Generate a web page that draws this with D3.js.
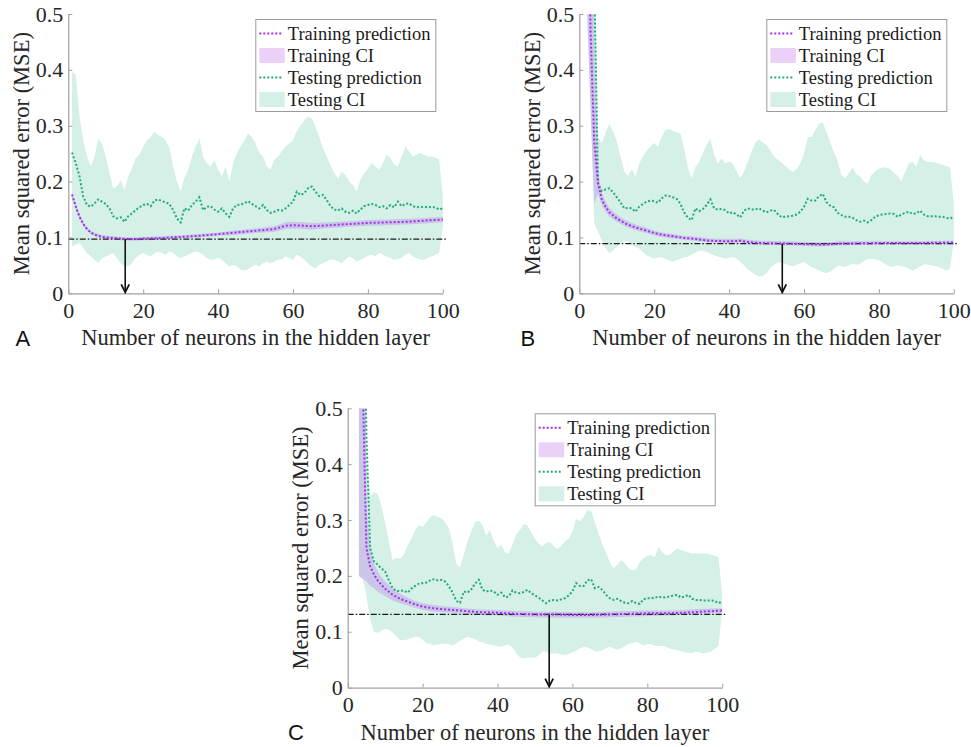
<!DOCTYPE html>
<html><head><meta charset="utf-8">
<script src="https://cdn.jsdelivr.net/npm/d3@7"></script>
<style>body{margin:0;background:#fff}svg{display:block}</style>
</head><body>
<svg id="c" width="971" height="747"></svg>
<script>
// ---------- DATA ----------
const neurons = d3.range(1, 101); // x grid 1..100
const yTicks = [0, 0.1, 0.2, 0.3, 0.4, 0.5];
const xTicks = [0, 20, 40, 60, 80, 100];
const legendLabels = ["Training prediction", "Training CI", "Testing prediction", "Testing CI"];
const xTitle = "Number of neurons in the hidden layer";
const yTitle = "Mean squared error (MSE)";
const panelLetters = ["A", "B", "C"];
const hlineValues = [0.097, 0.089, 0.131];
const arrowNeurons = [15.2, 54.2, 53.8];

// Panel A
const testPredA = [0.252,0.233,0.209,0.173,0.158,0.155,0.161,0.168,0.164,0.160,
0.152,0.138,0.134,0.136,0.128,0.138,0.143,0.149,0.154,0.158,
0.160,0.156,0.166,0.168,0.165,0.163,0.160,0.149,0.134,0.127,
0.152,0.148,0.158,0.164,0.172,0.149,0.155,0.156,0.150,0.146,
0.152,0.143,0.137,0.152,0.158,0.159,0.161,0.165,0.160,0.156,
0.152,0.158,0.149,0.144,0.146,0.149,0.148,0.152,0.158,0.164,
0.182,0.176,0.179,0.188,0.191,0.182,0.174,0.176,0.167,0.156,
0.150,0.148,0.152,0.146,0.144,0.148,0.143,0.150,0.156,0.158,
0.160,0.158,0.154,0.156,0.152,0.158,0.154,0.164,0.156,0.160,
0.161,0.156,0.154,0.155,0.154,0.155,0.154,0.154,0.150,0.152];
const testHiA = [0.397,0.391,0.316,0.274,0.245,0.227,0.245,0.277,0.268,0.245,
0.215,0.188,0.191,0.203,0.185,0.209,0.224,0.242,0.248,0.263,
0.274,0.280,0.289,0.283,0.280,0.274,0.260,0.227,0.200,0.182,
0.206,0.221,0.245,0.263,0.277,0.245,0.233,0.227,0.239,0.221,
0.209,0.227,0.200,0.233,0.251,0.263,0.274,0.286,0.280,0.268,
0.251,0.245,0.227,0.221,0.239,0.245,0.254,0.263,0.268,0.274,
0.289,0.301,0.310,0.316,0.313,0.298,0.280,0.260,0.245,0.230,
0.215,0.206,0.218,0.212,0.200,0.194,0.182,0.203,0.215,0.224,
0.233,0.227,0.221,0.233,0.248,0.242,0.230,0.227,0.245,0.263,
0.254,0.245,0.248,0.251,0.248,0.245,0.245,0.243,0.240,0.174];
const testLoA = [0.084,0.087,0.090,0.081,0.072,0.066,0.060,0.054,0.063,0.066,
0.069,0.072,0.063,0.054,0.048,0.048,0.054,0.063,0.069,0.072,
0.069,0.066,0.072,0.075,0.072,0.069,0.075,0.072,0.066,0.063,
0.066,0.069,0.072,0.075,0.073,0.069,0.063,0.060,0.061,0.063,
0.060,0.054,0.048,0.051,0.048,0.042,0.041,0.043,0.048,0.051,
0.048,0.054,0.057,0.054,0.057,0.060,0.061,0.066,0.063,0.060,
0.069,0.066,0.060,0.054,0.048,0.045,0.051,0.054,0.057,0.061,
0.060,0.057,0.054,0.060,0.066,0.063,0.057,0.060,0.063,0.067,
0.069,0.066,0.072,0.069,0.066,0.063,0.060,0.061,0.064,0.069,
0.072,0.066,0.063,0.060,0.060,0.063,0.066,0.069,0.072,0.118];
const trainXA = [1,2,3,4,5,6,7,8,9,10,12,14,16,18,20,25,30,35,40,45,50,55,58,60,63,65,70,75,80,85,90,95,100];
const trainA   = [0.177,0.155,0.137,0.124,0.115,0.109,0.105,0.103,0.101,0.100,0.099,0.098,0.097,0.097,0.098,0.099,0.101,0.103,0.106,0.109,0.112,0.115,0.121,0.122,0.121,0.120,0.122,0.124,0.126,0.127,0.128,0.130,0.132];
const trainLoA = [0.172,0.151,0.133,0.121,0.112,0.106,0.102,0.100,0.098,0.097,0.096,0.095,0.094,0.094,0.095,0.096,0.098,0.100,0.103,0.105,0.108,0.110,0.115,0.116,0.115,0.114,0.117,0.119,0.121,0.122,0.123,0.125,0.127];
const trainHiA = [0.181,0.159,0.141,0.128,0.118,0.112,0.108,0.106,0.104,0.103,0.102,0.101,0.100,0.100,0.101,0.102,0.104,0.106,0.109,0.113,0.116,0.120,0.127,0.128,0.127,0.126,0.127,0.129,0.131,0.132,0.133,0.135,0.137];

// Panel B
const testPredB = [null,null,0.9,0.55,0.196,0.183,0.186,0.188,0.181,0.172,
0.163,0.152,0.153,0.152,0.146,0.155,0.160,0.164,0.166,0.165,
0.162,0.170,0.175,0.174,0.172,0.169,0.160,0.145,0.135,0.131,
0.152,0.147,0.151,0.158,0.168,0.152,0.150,0.151,0.149,0.143,
0.145,0.141,0.136,0.148,0.152,0.150,0.150,0.152,0.148,0.145,
0.148,0.149,0.142,0.136,0.137,0.138,0.139,0.141,0.146,0.155,
0.169,0.166,0.166,0.174,0.178,0.163,0.157,0.154,0.144,0.140,
0.137,0.137,0.135,0.131,0.128,0.130,0.127,0.131,0.137,0.140,
0.141,0.142,0.143,0.142,0.137,0.141,0.144,0.146,0.142,0.143,
0.148,0.141,0.138,0.138,0.138,0.137,0.137,0.135,0.134,0.137];
const testHiB = [null,2.0,1.5,0.6,0.280,0.268,0.288,0.303,0.290,0.272,
0.245,0.218,0.210,0.222,0.208,0.232,0.246,0.255,0.263,0.269,
0.262,0.280,0.293,0.294,0.291,0.288,0.286,0.260,0.225,0.205,
0.226,0.235,0.251,0.266,0.277,0.248,0.232,0.242,0.232,0.236,
0.232,0.218,0.206,0.218,0.236,0.254,0.270,0.276,0.270,0.266,
0.255,0.245,0.239,0.234,0.228,0.222,0.217,0.222,0.232,0.250,
0.280,0.280,0.292,0.304,0.306,0.289,0.270,0.252,0.236,0.212,
0.206,0.215,0.225,0.213,0.209,0.200,0.196,0.212,0.218,0.223,
0.225,0.225,0.222,0.216,0.210,0.200,0.218,0.233,0.236,0.226,
0.248,0.238,0.235,0.235,0.234,0.232,0.230,0.228,0.225,0.160];
const testLoB = [null,0.52,0.33,0.125,0.110,0.095,0.081,0.072,0.076,0.083,
0.089,0.093,0.093,0.086,0.083,0.080,0.074,0.068,0.065,0.062,
0.064,0.064,0.062,0.059,0.056,0.059,0.062,0.064,0.066,0.069,
0.073,0.076,0.076,0.074,0.071,0.068,0.066,0.064,0.062,0.063,
0.065,0.062,0.056,0.050,0.043,0.038,0.033,0.030,0.031,0.036,
0.045,0.051,0.055,0.055,0.053,0.050,0.048,0.051,0.054,0.056,
0.052,0.047,0.044,0.041,0.038,0.036,0.039,0.044,0.049,0.049,
0.047,0.050,0.053,0.051,0.053,0.058,0.061,0.062,0.061,0.059,
0.055,0.051,0.048,0.048,0.050,0.049,0.047,0.044,0.041,0.044,
0.048,0.052,0.051,0.050,0.049,0.047,0.044,0.041,0.044,0.095];
const trainXB = [2,3,4,5,6,7,8,10,12,14,16,18,20,22,25,28,30,35,40,43,45,48,55,60,65,70,80,90,100];
const trainB   = [0.95,0.47,0.27,0.197,0.168,0.155,0.145,0.134,0.126,0.120,0.116,0.112,0.108,0.105,0.102,0.099,0.098,0.094,0.093,0.094,0.092,0.090,0.089,0.088,0.087,0.089,0.090,0.090,0.091];
const trainLoB = [0.52,0.33,0.16,0.178,0.158,0.147,0.138,0.128,0.121,0.115,0.111,0.108,0.104,0.101,0.098,0.096,0.095,0.091,0.090,0.091,0.089,0.087,0.086,0.085,0.084,0.086,0.087,0.087,0.088];
const trainHiB = [2.0,0.9,0.42,0.218,0.180,0.165,0.153,0.141,0.132,0.126,0.121,0.117,0.112,0.109,0.106,0.103,0.102,0.098,0.097,0.098,0.096,0.094,0.093,0.092,0.091,0.093,0.093,0.093,0.094];

// Panel C
const testPredC = [null,null,null,0.9,0.45,0.250,0.226,0.220,0.213,0.208,
0.192,0.178,0.173,0.173,0.174,0.170,0.177,0.182,0.186,0.187,
0.188,0.192,0.194,0.192,0.193,0.190,0.182,0.170,0.155,0.152,
0.172,0.170,0.176,0.186,0.193,0.175,0.172,0.174,0.172,0.166,
0.170,0.162,0.163,0.174,0.170,0.169,0.171,0.175,0.169,0.165,
0.161,0.156,0.151,0.156,0.157,0.156,0.158,0.160,0.165,0.172,
0.187,0.182,0.182,0.192,0.194,0.178,0.180,0.175,0.166,0.160,
0.157,0.159,0.155,0.152,0.151,0.155,0.151,0.150,0.158,0.160,
0.160,0.161,0.163,0.161,0.162,0.163,0.165,0.166,0.161,0.163,
0.166,0.159,0.157,0.157,0.156,0.156,0.156,0.155,0.151,0.154];
const testHiC = [null,null,2.5,1.2,0.40,0.342,0.350,0.346,0.325,0.295,
0.262,0.228,0.232,0.231,0.238,0.255,0.266,0.282,0.291,0.287,
0.296,0.305,0.309,0.306,0.303,0.296,0.285,0.258,0.222,0.216,
0.238,0.262,0.280,0.296,0.299,0.290,0.272,0.282,0.263,0.250,
0.256,0.242,0.240,0.256,0.274,0.282,0.293,0.290,0.278,0.266,
0.258,0.253,0.259,0.261,0.253,0.248,0.253,0.262,0.266,0.280,
0.302,0.298,0.305,0.318,0.316,0.296,0.275,0.256,0.241,0.224,
0.214,0.220,0.228,0.223,0.214,0.210,0.212,0.225,0.232,0.236,
0.237,0.234,0.252,0.242,0.237,0.238,0.243,0.249,0.246,0.244,
0.242,0.240,0.240,0.240,0.240,0.240,0.238,0.236,0.234,0.168];
const testLoC = [null,null,0.200,0.195,0.165,0.122,0.100,0.098,0.102,0.105,
0.104,0.098,0.091,0.085,0.085,0.086,0.089,0.091,0.091,0.086,
0.080,0.078,0.076,0.077,0.078,0.079,0.078,0.076,0.079,0.084,
0.088,0.091,0.089,0.087,0.083,0.081,0.078,0.077,0.076,0.074,
0.073,0.076,0.077,0.072,0.062,0.054,0.052,0.054,0.054,0.053,
0.058,0.065,0.064,0.061,0.061,0.061,0.059,0.059,0.060,0.063,
0.066,0.070,0.073,0.072,0.069,0.065,0.065,0.067,0.070,0.073,
0.070,0.068,0.070,0.074,0.078,0.080,0.082,0.079,0.076,0.078,
0.078,0.075,0.074,0.075,0.073,0.070,0.068,0.067,0.065,0.063,
0.062,0.062,0.064,0.063,0.061,0.063,0.064,0.070,0.074,0.140];
const trainXC = [3,4,5,6,7,8,9,10,12,14,16,18,20,23,26,30,35,40,45,50,55,60,65,70,75,80,85,90,95,100];
const trainC   = [1.4,0.55,0.250,0.217,0.203,0.192,0.184,0.177,0.166,0.159,0.154,0.149,0.145,0.142,0.140,0.138,0.135,0.134,0.132,0.131,0.131,0.130,0.130,0.131,0.132,0.133,0.133,0.134,0.136,0.138];
const trainLoC = [0.200,0.195,0.190,0.182,0.178,0.172,0.168,0.164,0.156,0.151,0.147,0.143,0.139,0.136,0.135,0.133,0.130,0.129,0.127,0.126,0.125,0.125,0.125,0.126,0.127,0.128,0.129,0.130,0.132,0.134];
const trainHiC = [2.5,1.2,0.33,0.245,0.222,0.208,0.198,0.190,0.177,0.168,0.161,0.155,0.151,0.148,0.145,0.143,0.140,0.139,0.137,0.136,0.136,0.135,0.135,0.136,0.137,0.138,0.138,0.139,0.141,0.142];

// ---------- STYLE ----------
const colTest = "#22a97c", colTrain = "#a52cf0";
const fillTest = "#d4f0e7", fillTrain = "rgba(160,32,240,0.2)", swatchTrain = "#ebd0f8";
const serif = "'Liberation Serif','Times New Roman',serif";

const panels = [
  {left:68.3, top:14, letterX:15.5, tp:testPredA, tl:testLoA, th:testHiA, rx:trainXA, r:trainA, rl:trainLoA, rh:trainHiA},
  {left:579.3, top:14, letterX:520.5, tp:testPredB, tl:testLoB, th:testHiB, rx:trainXB, r:trainB, rl:trainLoB, rh:trainHiB},
  {left:347.7, top:408.3, letterX:288, tp:testPredC, tl:testLoC, th:testHiC, rx:trainXC, r:trainC, rl:trainLoC, rh:trainHiC}
];
const W = 374.5, H = 279.3;
const svg = d3.select("#c");

panels.forEach((p, i) => {
  const g = svg.append("g").attr("transform", `translate(${p.left},${p.top})`);
  const x = d3.scaleLinear().domain([0, 100]).range([0, W]);
  const y = d3.scaleLinear().domain([0, 0.5]).range([H, 0]);
  const cid = "clip" + i;
  g.append("clipPath").attr("id", cid).append("rect").attr("x", 0).attr("y", 0).attr("width", W + 8).attr("height", H);
  const plot = g.append("g").attr("clip-path", `url(#${cid})`);

  const testRows = neurons.map((n, k) => ({n, m: p.tp[k], lo: p.tl[k], hi: p.th[k]}));
  const trainRows = p.rx.map((n, k) => ({n, m: p.r[k], lo: p.rl[k], hi: p.rh[k]}));

  plot.append("path").datum(testRows)
    .attr("d", d3.area().defined(d => d.lo != null && d.hi != null).x(d => x(d.n)).y0(d => y(d.lo)).y1(d => y(d.hi)))
    .attr("fill", fillTest);
  plot.append("path").datum(trainRows)
    .attr("d", d3.area().x(d => x(d.n)).y0(d => y(d.lo)).y1(d => y(d.hi)))
    .attr("fill", fillTrain);

  // optimum horizontal line
  plot.append("line").attr("x1", x(0)).attr("x2", x(100.8))
    .attr("y1", y(hlineValues[i])).attr("y2", y(hlineValues[i]))
    .attr("stroke", "#1a1a1a").attr("stroke-width", 1.4).attr("stroke-dasharray", "6,2,1.5,2");

  plot.append("path").datum(testRows)
    .attr("d", d3.line().defined(d => d.m != null).x(d => x(d.n)).y(d => y(d.m)))
    .attr("fill", "none").attr("stroke", colTest).attr("stroke-width", 2).attr("stroke-dasharray", "2,2");
  plot.append("path").datum(trainRows)
    .attr("d", d3.line().x(d => x(d.n)).y(d => y(d.m)))
    .attr("fill", "none").attr("stroke", colTrain).attr("stroke-width", 2).attr("stroke-dasharray", "2,2");

  // axes
  const xa = g.append("g").attr("transform", `translate(0,${H})`)
    .call(d3.axisBottom(x).tickValues(xTicks).tickSizeInner(-4).tickSizeOuter(0).tickPadding(10).tickFormat(d3.format("d")));
  const ya = g.append("g")
    .call(d3.axisLeft(y).tickValues(yTicks).tickSizeInner(-4).tickSizeOuter(0).tickPadding(5).tickFormat(d => d === 0 ? "0" : d3.format(".1f")(d)));
  [xa, ya].forEach(a => {
    a.select(".domain").attr("stroke", "#a0a0a0").attr("stroke-width", 1.2);
    a.selectAll(".tick line").attr("stroke", "#a0a0a0");
    a.selectAll("text").attr("font-family", serif).attr("font-size", 22).attr("fill", "#262626");
  });
  xa.selectAll("text").attr("dy", "0.71em").attr("y", 9);

  // arrow
  const ax = x(arrowNeurons[i]);
  g.append("line").attr("x1", ax).attr("x2", ax).attr("y1", y(hlineValues[i])).attr("y2", H - 1)
    .attr("stroke", "#111").attr("stroke-width", 1.6);
  g.append("path").attr("d", `M${ax - 4},${H - 9}L${ax},${H - 1}L${ax + 4},${H - 9}`)
    .attr("fill", "none").attr("stroke", "#111").attr("stroke-width", 1.8);

  // titles
  g.append("text").attr("x", W / 2).attr("y", H + 52).attr("text-anchor", "middle")
    .attr("font-family", serif).attr("font-size", 22.5).attr("fill", "#262626").text(xTitle);
  g.append("text").attr("transform", `translate(-39.5,${H / 2}) rotate(-90)`).attr("text-anchor", "middle")
    .attr("font-family", serif).attr("font-size", 22.5).attr("fill", "#262626").text(yTitle);
  svg.append("text").attr("x", p.letterX).attr("y", p.top + H + 52.4)
    .attr("font-family", "'Liberation Sans',Arial,sans-serif").attr("font-size", 22).attr("fill", "#111")
    .text(panelLetters[i]);

  // legend
  const lw = 180, lh = 92;
  const lg = g.append("g").attr("transform", `translate(${W - 7 - lw},5.5)`);
  lg.append("rect").attr("width", lw).attr("height", lh).attr("fill", "#fff").attr("stroke", "#9a9a9a").attr("stroke-width", 1);
  const rowsY = [14, 36, 58, 80];
  legendLabels.forEach((lab, k) => {
    const yy = rowsY[k];
    if (k === 0 || k === 2) {
      lg.append("line").attr("x1", 3.5).attr("x2", 27.5).attr("y1", yy).attr("y2", yy)
        .attr("stroke", k === 0 ? colTrain : colTest).attr("stroke-width", 2).attr("stroke-dasharray", "2,2");
    } else {
      lg.append("rect").attr("x", 3.5).attr("y", yy - 7.5).attr("width", 25.5).attr("height", 15)
        .attr("fill", k === 1 ? swatchTrain : fillTest);
    }
    lg.append("text").attr("x", 32).attr("y", yy).attr("dy", "0.34em")
      .attr("font-family", serif).attr("font-size", 18.5).attr("fill", "#1a1a1a").text(lab);
  });
});
</script>
</body></html>
